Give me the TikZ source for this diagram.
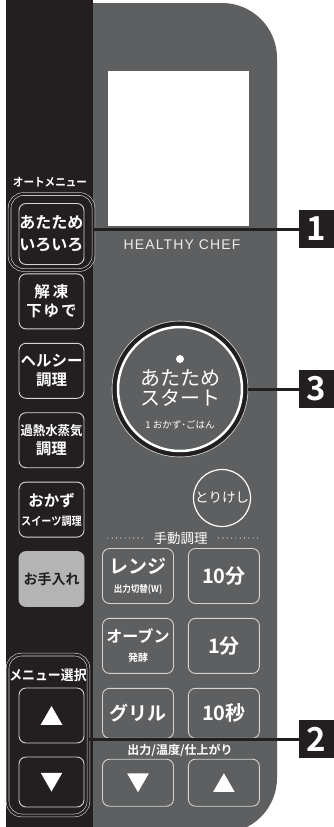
\documentclass[tikz,border=0pt]{standalone}
\usepackage{fontspec}
\newfontfamily\jp[BoldFont={Noto Sans CJK JP Bold}]{Noto Sans CJK JP}
\newfontfamily\brand[LetterSpace=8]{Liberation Sans}
\usetikzlibrary{positioning,shapes.geometric}
\definecolor{strip}{HTML}{231F20}
\definecolor{panel}{HTML}{5E5F61}
\definecolor{rim}{HTML}{D4D4D4}
\definecolor{padgrey}{HTML}{B4B4B4}

\begin{document}
\begin{tikzpicture}[x=1pt, y=-1pt, node distance=13.5pt and 14pt,
  key/.style={draw=rim, line width=0.9pt, rounded corners=7pt, text=white, align=center, minimum width=65pt, minimum height=55pt, inner sep=0pt, font=\jp\bfseries\fontsize{15.5}{19}\selectfont},
  pad/.style={key, minimum width=71pt, node distance=14pt},
  menuframe/.style={draw=rim, line width=0.6pt, double=strip, double distance=2.2pt, rounded corners=14pt},
  tag/.style={fill=strip, text=white, minimum width=35pt, minimum height=38pt, inner sep=0pt, font=\jp\bfseries\fontsize{33}{33}\selectfont},
  lead/.style={draw=strip, line width=3pt},
  tri/.style={regular polygon, regular polygon sides=3, fill=white, inner sep=0pt, minimum size=25pt},
  dotline/.style={white, line width=1.1pt, line cap=round, dash pattern=on 0pt off 4.3pt},
  caption/.style={text=white, inner sep=1pt}]
\useasboundingbox (0,0) rectangle (334,827);
\clip (0,0) rectangle (334,827);
\fill[white] (0,0) rectangle (334,827);

% body
\fill[strip] (6,0) rectangle (93,827);
\fill[panel] (93,3) -- (222,3) arc[start angle=-90, end angle=0, radius=55]
  -- (277,778) arc[start angle=0, end angle=90, radius=55] -- (93,833) -- cycle;
\node[fill=white, minimum width=141pt, minimum height=155pt, inner sep=0pt] (screen) at (178.5,148.5) {};
\node[caption, text=white!88!panel, font=\brand\fontsize{14}{14}\selectfont] (brandname) at (182,245) {HEALTHY CHEF};

% auto menu column
\node[caption, font=\jp\bfseries\fontsize{11.5}{12}\selectfont] (automenu) at (50,182) {\scalebox{0.92}[1]{オートメニュー}};
\node[key, minimum height=61pt, font=\jp\bfseries\fontsize{16}{22}\selectfont] (warm) at (51.5,234) {あたため\\いろいろ};
\draw[menuframe] ([shift={(-9,-9)}]warm.north west) rectangle ([shift={(9,5)}]warm.south east);
\node[key, below=8.5pt of warm] (thaw) {解\hspace{3pt}凍\\下\hspace{2pt}ゆ\hspace{2pt}で};
\node[key, below=of thaw] (healthy) {ヘルシー\\調理};
\node[key, below=of healthy] (steam) {{\fontsize{13}{13}\selectfont\scalebox{0.95}[1]{過熱水蒸気}}\\調理};
\node[key, below=of steam] (okazu) {おかず\\{\fontsize{11.5}{11.5}\selectfont\scalebox{0.88}[1]{スイーツ調理}}};
\node[key, below=of okazu, fill=padgrey, draw=padgrey, text=strip, font=\jp\bfseries\fontsize{14}{14}\selectfont] (care) {お手入れ};

% menu select
\node[caption, font=\jp\bfseries\fontsize{14}{14}\selectfont] (menusel) at (48,675) {\scalebox{0.92}[1]{メニュー選択}};
\node[key] (selup) at (51.5,715.5) {};
\node[key, minimum height=50pt] (seldown) at (51.5,782) {};
\draw[menuframe] ([shift={(-11,-33)}]selup.north west) rectangle ([shift={(4,8)}]seldown.south east);
\node[tri, yshift=-3pt] (selupmark) at (selup) {};
\node[tri, shape border rotate=180, yshift=3pt] (seldownmark) at (seldown) {};

% start button
\node[circle, draw=white, line width=2.5pt, minimum size=124pt, inner sep=0pt] (start) at (180,389) {};
\draw[strip, line width=4pt] (start.center) circle[radius=65.5];
\draw[rim, line width=0.6pt] (start.center) circle[radius=68];
\fill[white] ([yshift=30pt]start.center) circle[radius=4];
\node[caption, font=\jp\fontsize{20}{20}\selectfont] (startA) at ([yshift=11pt]start.center) {あたため};
\node[caption, font=\jp\fontsize{20}{20}\selectfont] (startB) at ([yshift=-9pt]start.center) {スタート};
\node[caption, font=\jp\fontsize{9.5}{10}\selectfont] (startC) at ([yshift=-36pt]start.center) {1 おかず･ごはん};

\node[circle, draw=white, line width=1.2pt, minimum size=57pt, inner sep=0pt, text=white, font=\jp\fontsize{13.5}{13.5}\selectfont] (cancel) at (222,498) {とりけし};

% manual cooking
\node[caption, font=\jp\fontsize{13.5}{13.5}\selectfont] (manual) at (180.5,538) {手動調理};
\draw[dotline] ([xshift=-10pt]manual.west) -- ++(-38,0);
\draw[dotline] ([xshift=10pt]manual.east) -- ++(40,0);

\node[pad] (range) at (138,576) {{\fontsize{19}{20}\selectfont レンジ}\\{\fontsize{9.5}{10}\selectfont\scalebox{0.9}[1]{出力切替(W)}}};
\node[pad, right=of range, font=\jp\bfseries\fontsize{20}{20}\selectfont] (tenmin) {10分};
\node[pad, below=of range] (oven) {{\fontsize{16}{18}\selectfont オーブン}\\{\fontsize{10}{10}\selectfont 発酵}};
\node[pad, right=of oven, font=\jp\bfseries\fontsize{20}{20}\selectfont] (onemin) {1分};
\node[pad, below=of oven, minimum height=50pt, font=\jp\bfseries\fontsize{19}{19}\selectfont] (grill) {グリル};
\node[pad, right=of grill, minimum height=50pt, font=\jp\bfseries\fontsize{20}{20}\selectfont] (tensec) {10秒};
\node[caption, font=\jp\bfseries\fontsize{12}{12}\selectfont] (outlabel) at (180,750) {出力/温度/仕上がり};
\node[pad, below=20pt of grill, minimum height=47pt] (outdown) {};
\node[pad, right=of outdown, minimum height=47pt] (outup) {};
\node[tri, shape border rotate=180, yshift=3pt] (outdownmark) at (outdown) {};
\node[tri, yshift=-3pt] (outupmark) at (outup) {};

% callouts
\node[tag] (tag1) at (316.5,229) {1};
\node[tag] (tag3) at (316.5,389) {3};
\node[tag] (tag2) at (316.5,739) {2};
\coordinate (lead1) at (93,229);
\coordinate (lead2) at (88,739);
\coordinate (lead3) at ([xshift=5pt]start.east);
\draw[lead] (lead1) -- (tag1);
\draw[lead] (lead3) -- (tag3);
\draw[lead] (lead2) -- (tag2);
\end{tikzpicture}
\end{document}
